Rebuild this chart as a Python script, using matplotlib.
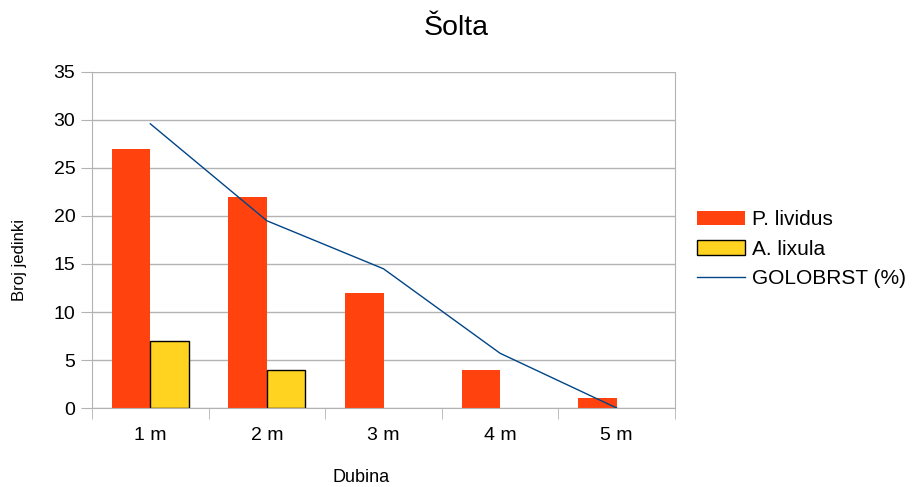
import matplotlib.pyplot as plt
import numpy as np

plt.rcParams['font.family'] = ['Liberation Sans', 'DejaVu Sans']

# data
categories = ['1 m', '2 m', '3 m', '4 m', '5 m']
p_lividus = [27, 22, 12, 4, 1]
a_lixula = [7, 4, 0, 0, 0]
golobrst = [29.6, 19.5, 14.5, 5.7, 0]

x = np.arange(len(categories))
w = 0.33
grid_col = '#b3b3b3'

fig = plt.figure(figsize=(9.13, 4.87), dpi=100)
ax = fig.add_axes([0.1008, 0.1622, 0.6385, 0.6900])

b1 = ax.bar(x - w / 2, p_lividus, w, color='#ff420e', label='P. lividus', zorder=2)
edges = ['black' if v > 0 else 'none' for v in a_lixula]  # no outline on empty bars
b2 = ax.bar(x + w / 2, a_lixula, w, color='#ffd320', edgecolor=edges, linewidth=1,
            label='A. lixula', zorder=2)
l1, = ax.plot(x, golobrst, color='#004586', linewidth=1, label='GOLOBRST (%)', zorder=3)

ax.set_xlim(-0.5, len(categories) - 0.5)
ax.set_ylim(0, 35)
ax.set_yticks(range(0, 36, 5))
ax.set_xticks(x)
ax.set_xticklabels(categories, fontsize=14)
ax.set_xticks(np.arange(-0.5, len(categories), 1), minor=True)
ax.tick_params(axis='x', which='major', length=0, pad=14)
ax.tick_params(axis='x', which='minor', length=8, color=grid_col)
ax.tick_params(axis='y', length=8, color=grid_col, labelsize=14, pad=4)
ax.yaxis.grid(True, color=grid_col, linewidth=1, zorder=0)
ax.set_axisbelow(True)
for s in ax.spines.values():
    s.set_color(grid_col)
ax.spines['top'].set_visible(False)

ax.set_xlabel('Dubina', fontsize=13)
ax.xaxis.set_label_coords(0.461, -0.182)
ax.set_ylabel('Broj jedinki', fontsize=12)
ax.yaxis.set_label_coords(-0.111, 0.44)
fig.suptitle('Šolta', fontsize=20.5, y=0.97)

leg = ax.legend([b1, b2, l1], ['P. lividus', 'A. lixula', 'GOLOBRST (%)'],
                loc='center left', frameon=False,
                fontsize=15, handlelength=2.3, handleheight=0.7, labelspacing=0.5,
                handletextpad=0.34)
leg.set_bbox_to_anchor((1.006, 0.473), transform=ax.transAxes)

plt.savefig('out.png')
